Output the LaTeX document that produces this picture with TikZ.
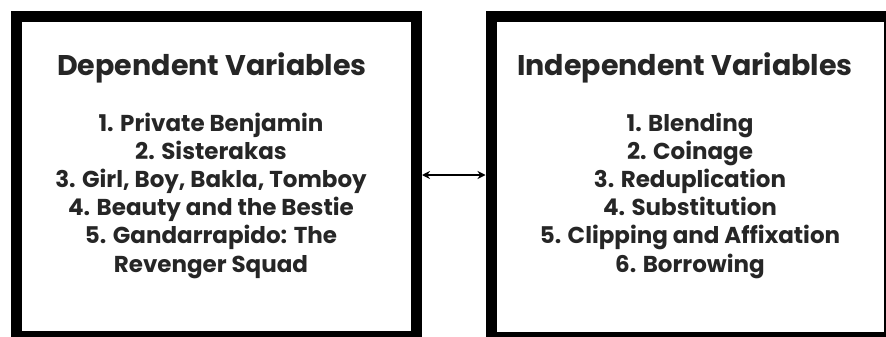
\documentclass[tikz,border=0pt]{standalone}
\usepackage{fontspec}
\setmainfont{Poppins}
\usetikzlibrary{arrows.meta}
\begin{document}
\begin{tikzpicture}[x=1pt,y=-1pt,
  varbox/.style={draw=black,line width=11pt,minimum height=320pt,inner sep=0pt},
  titletext/.style={font=\fontsize{28.5}{32}\selectfont\bfseries,text=black!85,inner sep=0pt},
  listtext/.style={font=\fontsize{23}{28.2}\selectfont\bfseries,text=black!85,align=center,inner sep=0pt},
  link/.style={line width=1.8pt,{Stealth[length=8pt,width=8pt]}-{Stealth[length=8pt,width=8pt]}}]
\useasboundingbox (0,0) rectangle (886,337);
\fill[white] (0,0) rectangle (886,337);
\node[varbox,minimum width=400pt] (dep) at (216.5,176.5) {};
\node[varbox,minimum width=398pt] (ind) at (690,177) {};
\node[titletext] (deptitle) at (212,68) {Dependent Variables};
\node[titletext] (indtitle) at (685,68) {Independent Variables};
\node[listtext] (deplist) at (211,195.5) {1. Private Benjamin\\2. Sisterakas\\3. Girl, Boy, Bakla, Tomboy\\4. Beauty and the Bestie\\5. Gandarrapido: The\\Revenger Squad};
\node[listtext] (indlist) at (690,195.5) {1. Blending\\2. Coinage\\3. Reduplication\\4. Substitution\\5. Clipping and Affixation\\6. Borrowing};
\draw[link] (dep.east |- 0,175) -- (ind.west |- 0,175);
\end{tikzpicture}
\end{document}
